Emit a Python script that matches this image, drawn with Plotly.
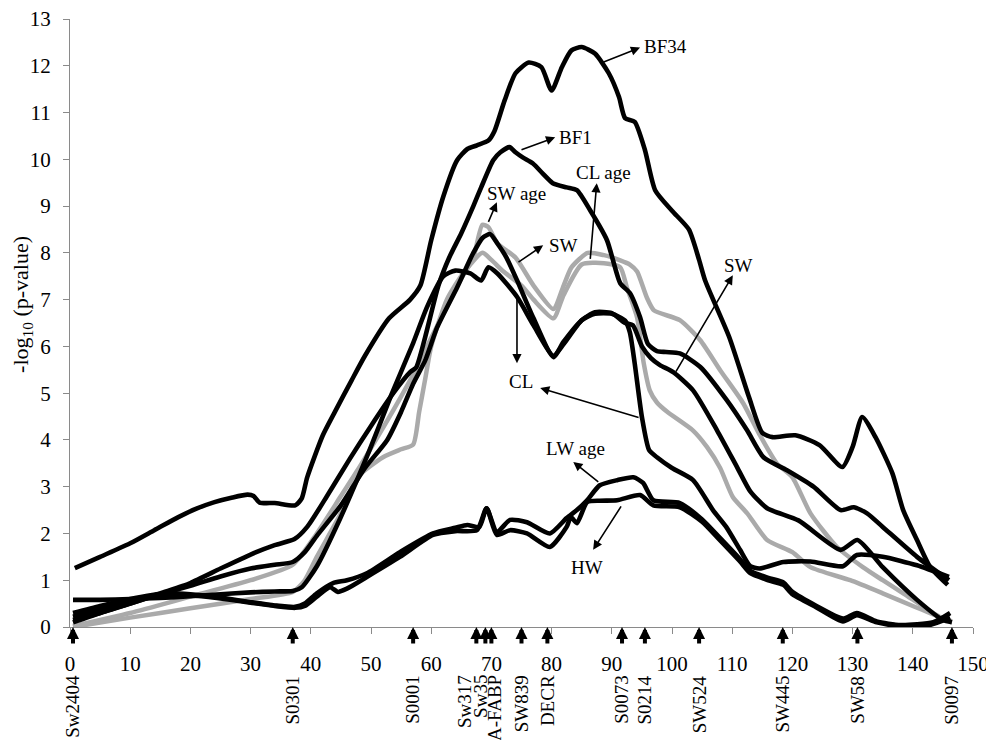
import plotly.graph_objects as go

# ---------------- data (cM, -log10 p) ----------------
cm_bf34 = [0.8, 5, 10, 14, 18, 21, 24, 27, 29.5, 30.5, 31.5, 34, 37.4, 38.5, 39.4, 42, 44, 46.8, 49, 53, 56.5, 58.2, 60, 62, 64.3, 66, 67.6, 69.5, 70.5, 72.2, 74, 76.2, 78.3, 80, 81.7, 83.3, 85, 87.2, 89.5, 91.2, 92.2, 93.8, 95.5, 97.2, 100, 102.8, 104.5, 105.5, 109.5, 112.8, 115, 116.7, 120.5, 124.5, 128.3, 130, 131.6, 133.8, 136.6, 138.4, 140.7, 142.9, 145.8]
v_bf34 = [1.26, 1.5, 1.79, 2.07, 2.35, 2.53, 2.67, 2.77, 2.83, 2.8, 2.66, 2.65, 2.6, 2.75, 3.2, 4.1, 4.6, 5.28, 5.8, 6.6, 7.0, 7.3, 8.27, 9.2, 9.98, 10.22, 10.3, 10.4, 10.6, 11.26, 11.84, 12.07, 11.97, 11.47, 11.97, 12.33, 12.4, 12.26, 11.84, 11.33, 10.88, 10.8, 10.2, 9.34, 8.9, 8.5, 7.85, 7.41, 6.2, 4.91, 4.15, 4.06, 4.1, 3.89, 3.42, 3.85, 4.49, 4.06, 3.29, 2.5, 1.86, 1.28, 0.9]

cm_bf1 = [0.5, 5, 10, 15, 20, 25, 30, 34, 37.3, 39.4, 42.7, 46.5, 50, 53.7, 56.5, 57.5, 59, 61.2, 63, 65, 67, 68.3, 70.3, 71.5, 73, 74, 75.2, 76.9, 78.5, 80.2, 82.5, 84.2, 86.4, 89.2, 91.4, 93, 94.7, 96, 97.5, 99, 101.3, 104.7, 109.1, 112.5, 115.2, 119.1, 123.5, 128, 130.2, 132.4, 135, 140.7, 146]
v_bf1 = [0.15, 0.3, 0.5, 0.72, 0.94, 1.25, 1.55, 1.75, 1.88, 2.14, 2.8, 3.6, 4.3, 5.0, 5.45, 5.55, 6.2, 7.3, 7.9, 8.42, 9.0, 9.4, 9.98, 10.15, 10.26, 10.15, 10.04, 9.91, 9.7, 9.49, 9.4, 9.34, 8.91, 8.27, 7.35, 7.14, 6.62, 6.05, 5.9, 5.88, 5.85, 5.56, 4.85, 4.2, 3.63, 3.35, 3.0, 2.5, 2.56, 2.43, 2.14, 1.5, 1.0]

cm_sw = [0.5, 5, 10, 15, 20, 25, 30, 34, 37, 39, 41, 45, 49, 52.7, 55, 57, 59, 61, 64.3, 67, 68.6, 69.8, 71, 72.5, 74.3, 77, 80.3, 82, 85, 87.2, 90, 92.2, 93.5, 95, 96.5, 98, 100.2, 103.5, 107.5, 110.8, 113, 115.8, 121, 128, 130.8, 135, 140.7, 145, 146.5]
v_sw = [0.1, 0.3, 0.5, 0.7, 0.88, 1.08, 1.25, 1.33, 1.39, 1.6, 1.95, 2.6, 3.4, 4.0, 4.6, 5.2, 5.7, 6.41, 7.26, 8.0, 8.33, 8.4, 8.2, 7.9, 7.4, 6.6, 5.77, 6.1, 6.56, 6.73, 6.71, 6.5, 6.45, 6.0, 5.75, 5.6, 5.45, 5.06, 4.2, 3.42, 2.9, 2.54, 2.28, 1.65, 1.86, 1.28, 0.58, 0.15, 0.1]

cm_cl = [0.5, 5, 10, 15, 20, 25, 30, 34, 37, 38.5, 41, 44.8, 49.5, 53.5, 57, 59.3, 62, 64, 66.5, 68.3, 69.5, 71, 74.3, 77, 80.3, 82, 85, 87.2, 90, 92.2, 93, 93.8, 95, 96.2, 97.5, 100, 103.5, 106.8, 109, 111.3, 113, 114.5, 118.5, 123, 128.4, 130.7, 135, 140.7, 146]
v_cl = [0.58, 0.58, 0.6, 0.62, 0.66, 0.7, 0.74, 0.76, 0.77, 0.85, 1.3, 2.3, 3.7, 5.0, 6.07, 6.84, 7.5, 7.62, 7.56, 7.41, 7.69, 7.56, 7.05, 6.45, 5.8, 6.05, 6.56, 6.7, 6.7, 6.55, 6.3, 5.64, 4.49, 3.78, 3.63, 3.4, 3.14, 2.5, 2.14, 1.65, 1.3, 1.25, 1.39, 1.4, 1.3, 1.54, 1.5, 1.32, 1.07]

cm_lw_age = [0.5, 5, 10, 16, 20, 24.4, 30, 34, 37.4, 39, 41, 43.7, 46, 49.3, 54.8, 60.3, 64, 66, 68, 69.2, 70.9, 73.1, 75.9, 79.7, 82.5, 84.2, 85.9, 88, 90.9, 93.6, 95.2, 96.9, 101.3, 105, 108, 111.3, 113, 116, 118.5, 120, 124, 128.4, 130.7, 134, 138, 143.4, 146.2]
v_lw_age = [0.3, 0.45, 0.6, 0.72, 0.7, 0.64, 0.53, 0.46, 0.43, 0.5, 0.72, 0.94, 1.0, 1.15, 1.6, 2.0, 2.12, 2.18, 2.14, 2.54, 2.03, 2.29, 2.24, 2.0, 2.33, 2.5, 2.71, 3.03, 3.14, 3.2, 3.08, 2.71, 2.65, 2.3, 1.9, 1.45, 1.2, 1.05, 0.95, 0.75, 0.45, 0.18, 0.3, 0.12, 0.04, 0.1, 0.3]

cm_hw = [0.5, 5, 10, 16, 20, 24.4, 30, 34, 37.4, 39, 41, 43.2, 44.5, 46, 49.3, 54.8, 60.3, 64, 67.6, 69.2, 70.9, 73.1, 75.9, 79.7, 82.5, 83.2, 84.2, 85.9, 88, 90.9, 94.7, 96.9, 101.3, 105, 108, 111.3, 113, 116, 118.5, 120, 124, 128.4, 130.7, 134, 138, 143, 146.2]
v_hw = [0.22, 0.38, 0.55, 0.7, 0.68, 0.62, 0.52, 0.45, 0.41, 0.45, 0.65, 0.85, 0.75, 0.82, 1.07, 1.5, 1.97, 2.05, 2.07, 2.54, 1.97, 2.07, 2.0, 1.71, 2.14, 2.35, 2.22, 2.67, 2.7, 2.71, 2.82, 2.6, 2.56, 2.25, 1.85, 1.4, 1.15, 1.0, 0.9, 0.7, 0.42, 0.12, 0.25, 0.1, 0.02, 0.05, 0.2]

cm_sw_age = [0.5, 10, 20, 30, 37, 41, 45, 48, 51.5, 54, 57, 59.8, 62.6, 64.8, 67, 68.5, 69.5, 71, 74, 77, 80.3, 82, 83.3, 86, 88.7, 91.4, 93, 94.2, 95.8, 97, 101.3, 104.7, 108, 111.8, 114.6, 117.4, 120, 123, 127.4, 131.7, 135, 138.4, 144.5, 146.5]
v_sw_age = [0.02, 0.3, 0.65, 1.0, 1.33, 2.0, 2.8, 3.4, 4.15, 4.7, 5.4, 6.13, 6.84, 7.41, 7.9, 8.6, 8.55, 8.2, 7.9, 7.3, 6.8, 7.3, 7.69, 8.0, 7.95, 7.84, 7.75, 7.6, 7.05, 6.77, 6.56, 6.13, 5.49, 4.79, 4.1, 3.5, 3.2, 2.43, 1.71, 1.28, 1.0, 0.72, 0.21, 0.1]

cm_cl_age = [0.5, 10, 20, 30, 37, 39, 41, 45, 47.7, 52, 55, 57, 58, 59, 60, 62.6, 65.3, 68.5, 70, 72, 75, 77, 80.3, 82, 85, 88.7, 91.4, 92.5, 94.2, 95.3, 96.3, 97.5, 99.2, 103.5, 105.8, 108, 110.1, 112.5, 115.8, 120, 123, 129.6, 135, 140, 144.5, 146.5]
v_cl_age = [0.0, 0.2, 0.4, 0.6, 0.75, 1.0, 1.5, 2.43, 3.2, 3.63, 3.8, 3.9, 4.6, 5.3, 6.0, 7.0, 7.56, 8.0, 7.85, 7.6, 7.3, 7.0, 6.6, 7.1, 7.75, 7.78, 7.69, 7.26, 6.62, 5.64, 5.06, 4.8, 4.6, 4.2, 3.85, 3.4, 2.78, 2.43, 1.86, 1.6, 1.28, 1.0, 0.72, 0.45, 0.21, 0.12]

marker_names = ["Sw2404", "S0301", "S0001", "Sw317", "Sw35", "A-FABP", "SW839", "DECR",
                "S0073", "S0214", "SW524", "SW445", "SW58", "S0097"]
marker_cm = [0.5, 37, 57, 67.5, 69, 70, 75, 79.3, 91.7, 95.5, 104.5, 118.4, 130.8, 146.5]
marker_label_cm = [0.5, 37, 57, 65.5, 68.3, 70.4, 75, 79.3, 91.7, 95.5, 104.5, 118.4, 130.8, 146.5]

x_ticks = list(range(0, 151, 10))
y_ticks = list(range(0, 14))

FONT = "Liberation Serif"

fig = go.Figure()

gray_series = [(cm_sw_age, v_sw_age, "SW age"), (cm_cl_age, v_cl_age, "CL age")]
black_series = [(cm_lw_age, v_lw_age, "LW age"), (cm_hw, v_hw, "HW"), (cm_cl, v_cl, "CL"),
                (cm_sw, v_sw, "SW"), (cm_bf1, v_bf1, "BF1"), (cm_bf34, v_bf34, "BF34")]

for xs, ys, nm in gray_series:
    fig.add_trace(go.Scatter(x=xs, y=ys, mode="lines", name=nm,
                             line=dict(color="#aaaaaa", width=4.5, shape="spline", smoothing=0.6)))
for xs, ys, nm in black_series:
    fig.add_trace(go.Scatter(x=xs, y=ys, mode="lines", name=nm,
                             line=dict(color="black", width=4.6, shape="spline", smoothing=0.6)))

ann = []
# marker arrows and labels
for pos, lpos, name in zip(marker_cm, marker_label_cm, marker_names):
    ann.append(dict(x=pos, y=0, xref="x", yref="y", text="", showarrow=True,
                    ax=0, ay=18, arrowhead=2, arrowsize=0.6, arrowwidth=4, arrowcolor="black"))
    ann.append(dict(x=lpos, y=-0.076, xref="x", yref="paper", text=name, showarrow=False,
                    textangle=-90, xanchor="center", yanchor="top",
                    font=dict(family=FONT, size=19, color="black")))

# label arrows: (tail on curve) -> (head near text)
label_arrows = [
    ((88.4, 12.07), (94.7, 12.39)),
    ((74.75, 10.19), (80.6, 10.47)),
    ((69.4, 8.63), (70.9, 9.08)),
    ((74.25, 7.78), (78.6, 8.16)),
    ((86.4, 7.84), (87.5, 9.49)),
    ((74.25, 7.05), (74.25, 5.64)),
    ((94.7, 4.47), (78.1, 5.11)),
    ((100.5, 5.43), (110.1, 7.52)),
    ((88.0, 3.08), (83.6, 3.53)),
    ((91.7, 2.61), (86.9, 1.65)),
]
for (tx, ty), (hx, hy) in label_arrows:
    ann.append(dict(x=hx, y=hy, ax=tx, ay=ty, xref="x", yref="y", axref="x", ayref="y",
                    text="", showarrow=True, arrowhead=2, arrowsize=1.15, arrowwidth=1.6,
                    arrowcolor="black"))

label_texts = [
    ("BF34", 95.0, 12.42, "left"),
    ("BF1", 80.9, 10.47, "left"),
    ("SW age", 74.1, 9.27, "center"),
    ("SW", 79.2, 8.16, "left"),
    ("CL age", 88.7, 9.72, "center"),
    ("CL", 74.9, 5.24, "center"),
    ("SW", 111.0, 7.74, "center"),
    ("LW age", 84.0, 3.82, "center"),
    ("HW", 85.9, 1.28, "center"),
]
for t, x, y, xa in label_texts:
    ann.append(dict(x=x, y=y, xref="x", yref="y", text=t, showarrow=False,
                    xanchor=xa, yanchor="middle", font=dict(family=FONT, size=19, color="black")))

ann.append(dict(x=150.6, y=0.05, xref="x", yref="y", text="cM", showarrow=False,
                xanchor="right", yanchor="bottom", font=dict(family=FONT, size=21, color="black")))
ann.append(dict(x=-0.053, y=0.53, xref="paper", yref="paper", text="-log<sub>10</sub> (p-value)",
                showarrow=False, textangle=-90, xanchor="center", yanchor="middle",
                font=dict(family=FONT, size=22, color="black")))

# page body has an 8px margin, so the figure is 986x732 drawn at (8, 8)
fig.update_layout(
    width=986, height=732,
    margin=dict(l=62, r=21, t=11, b=113, autoexpand=False),
    paper_bgcolor="white", plot_bgcolor="white",
    showlegend=False,
    annotations=ann,
    xaxis=dict(range=[0, 150], tickvals=x_ticks, showgrid=False, zeroline=False,
               automargin=False, ticklabeloverflow="allow",
               showline=True, linecolor="#8a8a8a", linewidth=1, ticks="outside",
               ticklen=6, tickcolor="#8a8a8a", ticklabelstandoff=12,
               tickfont=dict(family=FONT, size=21, color="black")),
    yaxis=dict(range=[0, 13], tickvals=y_ticks, showgrid=False, zeroline=False,
               automargin=False, ticklabeloverflow="allow",
               showline=True, linecolor="#8a8a8a", linewidth=1, ticks="outside",
               ticklen=6, tickcolor="#8a8a8a", ticklabelstandoff=8,
               tickfont=dict(family=FONT, size=21, color="black")),
)

fig.write_html("out.html")
